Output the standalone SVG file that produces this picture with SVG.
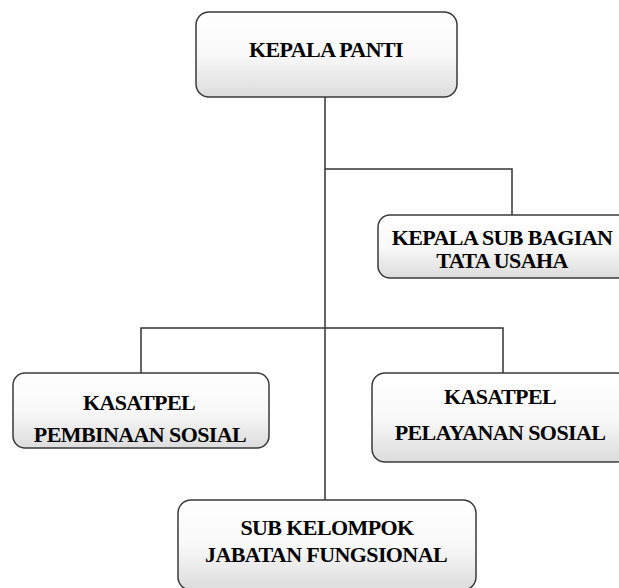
<svg xmlns="http://www.w3.org/2000/svg" width="619" height="588" viewBox="0 0 619 588">
<style>
.box{fill:url(#g);stroke:#3a3a3a;stroke-width:1.5}
.t{font-family:"Liberation Serif","Times New Roman",serif;font-weight:bold;font-size:22px;letter-spacing:-0.6px;fill:#000;text-anchor:middle}
.c{stroke:#333;stroke-width:1.5;fill:none}
</style>
<defs>
<linearGradient id="g" x1="0" y1="0" x2="0" y2="1">
<stop offset="0" stop-color="#ffffff"/>
<stop offset="0.5" stop-color="#f9f9f9"/>
<stop offset="1" stop-color="#dcdcdc"/>
</linearGradient>
</defs>
<rect width="619" height="588" fill="#fff"/>
<g id="connectors">
<path class="c" d="M325 97 V500"/>
<path class="c" d="M325 169 H512 V215"/>
<path class="c" d="M141 373 V328 H503 V373"/>
</g>
<g id="kepala-panti">
<rect class="box" x="196" y="12" width="261" height="85" rx="13"/>
<text class="t" x="326" y="57">KEPALA PANTI</text>
</g>
<g id="kasubag-tu">
<rect class="box" x="378" y="215" width="252" height="63" rx="12"/>
<text class="t" x="502" y="245">KEPALA SUB BAGIAN</text>
<text class="t" x="502" y="268">TATA USAHA</text>
</g>
<g id="kasatpel-pembinaan">
<rect class="box" x="13" y="373" width="256" height="75" rx="12"/>
<text class="t" x="139" y="410">KASATPEL</text>
<text class="t" x="140" y="442">PEMBINAAN SOSIAL</text>
</g>
<g id="kasatpel-pelayanan">
<rect class="box" x="372" y="373" width="258" height="89" rx="13"/>
<text class="t" x="500" y="404">KASATPEL</text>
<text class="t" x="500" y="440">PELAYANAN SOSIAL</text>
</g>
<g id="subkelompok">
<rect class="box" x="178" y="500" width="298" height="90" rx="13"/>
<text class="t" x="327" y="535">SUB KELOMPOK</text>
<text class="t" x="326" y="562">JABATAN FUNGSIONAL</text>
</g>
</svg>
